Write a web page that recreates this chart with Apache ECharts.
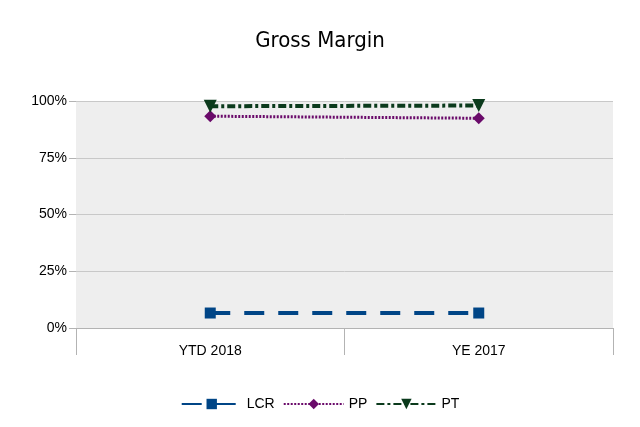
<!DOCTYPE html>
<html><head><meta charset="utf-8">
<script src="https://cdn.jsdelivr.net/npm/echarts@6/dist/echarts.min.js"></script>
<style>html,body{margin:0;padding:0;background:#fff}#c{width:640px;height:427px}</style>
</head><body><div id="c"></div>
<script>
var categories = ['YTD 2018', 'YE 2017'];
var lcr = [0.066, 0.066];
var pp = [0.933, 0.924];
var pt = [0.977, 0.980];
var yTicks = [0, 0.25, 0.5, 0.75, 1];

var chart = echarts.init(document.getElementById('c'));
chart.setOption({
  animation: false,
  backgroundColor: '#ffffff',
  title: {
    text: 'Gross Margin', left: 'center', top: 25,
    textStyle: { fontFamily: 'DejaVu Sans Condensed', fontSize: 22, fontWeight: 'normal', color: '#000' }
  },
  grid: { left: 76, right: 27, top: 101, bottom: 99, show: true, backgroundColor: '#eeeeee', borderWidth: 0 },
  legend: {
    bottom: 11, left: 'center', itemWidth: 60, itemHeight: 13, itemGap: 8,
    textStyle: { fontFamily: 'Liberation Sans', fontSize: 14, color: '#000' },
    data: ['LCR', 'PP', 'PT']
  },
  xAxis: {
    type: 'category', data: categories, boundaryGap: true,
    axisLine: { lineStyle: { color: '#b3b3b3' } },
    axisTick: { show: true, length: 27, lineStyle: { color: '#b3b3b3' } },
    axisLabel: { color: '#000', fontFamily: 'Liberation Sans', fontSize: 14, margin: 16 }
  },
  yAxis: {
    type: 'value', min: 0, max: 1, interval: 0.25,
    axisLine: { show: false },
    axisTick: { show: true, length: 7, lineStyle: { color: '#b3b3b3' } },
    splitLine: { lineStyle: { color: '#c8c8c8' } },
    axisLabel: { color: '#000', fontFamily: 'Liberation Sans', fontSize: 14, margin: 9,
      formatter: function (v) { return Math.round(v * 100) + '%'; } }
  },
  series: [
    { name: 'LCR', type: 'line', data: lcr, symbol: 'rect', symbolSize: 11,
      itemStyle: { color: '#004586' },
      lineStyle: { color: '#004586', width: 4, type: [20, 14] } },
    { name: 'PP', type: 'line', data: pp, symbol: 'diamond', symbolSize: 12,
      itemStyle: { color: '#6a0a6a' },
      lineStyle: { color: '#6a0a6a', width: 3, type: [2, 1.5] } },
    { name: 'PT', type: 'line', data: pt, symbol: 'triangle', symbolRotate: 180, symbolSize: 13,
      itemStyle: { color: '#0b3a1c' },
      lineStyle: { color: '#0b3a1c', width: 4, type: [8, 3, 3, 3] } }
  ]
});
</script></body></html>
